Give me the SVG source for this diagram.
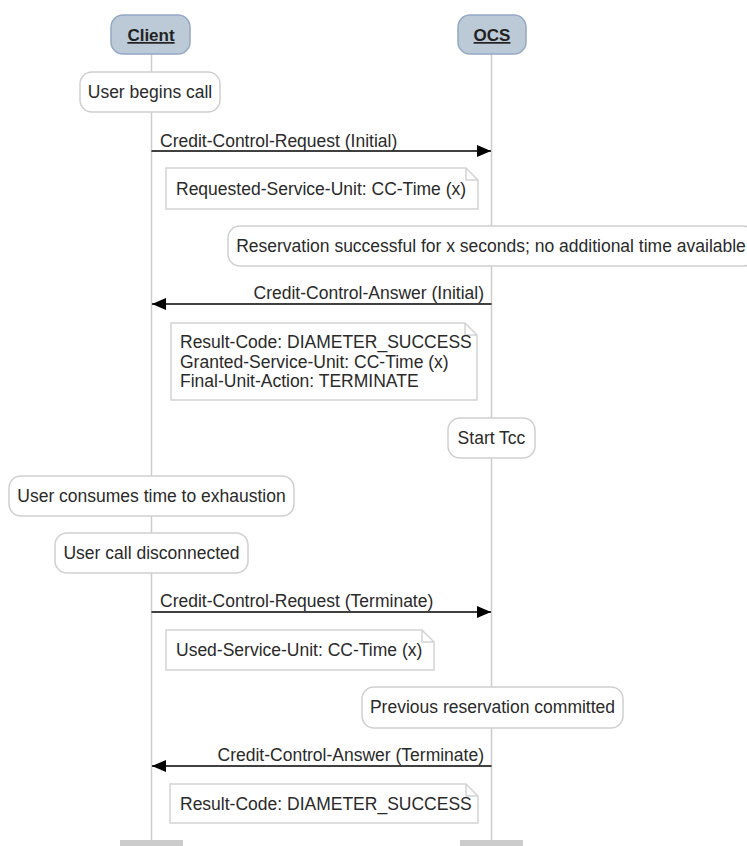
<svg xmlns="http://www.w3.org/2000/svg" width="747" height="846" viewBox="0 0 747 846">
<defs>
<style>
text{font-family:"Liberation Sans",Arial,sans-serif;font-size:17.5px;fill:#2a2a2a}
.actor rect{fill:#bccad8;stroke:#94a8c4;stroke-width:1.5}
.actor text{font-weight:bold;text-decoration:underline;text-anchor:middle;fill:#222;font-size:17px}
.life{stroke:#cccccc;stroke-width:1.5;fill:none}
.foot{fill:#cccccc}
.ev rect{fill:#fff;stroke:#cfcfcf;stroke-width:1.5}
.ev text{text-anchor:middle}
.note path{fill:#fff;stroke:#d3d3d3;stroke-width:1.5}
.msg line{stroke:#000;stroke-width:1.5}
.r{text-anchor:end}
</style>
<marker id="ah" viewBox="0 0 14 12" refX="14" refY="6" markerWidth="14" markerHeight="12" markerUnits="userSpaceOnUse" orient="auto">
<path d="M0,0 L14,6 L0,12 Z" fill="#000"/>
</marker>
</defs>
<rect width="747" height="846" fill="#fff"/>
<g id="lifelines">
<line class="life" x1="151.5" y1="54" x2="151.5" y2="840"/>
<line class="life" x1="491.5" y1="54" x2="491.5" y2="840"/>
<rect class="foot" x="120" y="840" width="63" height="8"/>
<rect class="foot" x="460" y="840" width="63" height="8"/>
</g>
<g id="actor-client" class="actor"><rect x="111" y="15" width="79" height="39" rx="12"/><text x="151" y="41">Client</text></g>
<g id="actor-ocs" class="actor"><rect x="458" y="15" width="68" height="39" rx="12"/><text x="492" y="41">OCS</text></g>
<g id="ev1" class="ev"><rect x="80" y="72" width="140" height="40" rx="12"/><text x="150" y="98">User begins call</text></g>
<g id="note1" class="note"><path d="M166,168 H466 L478,180 V209 H166 Z M466,168 V180 H478"/><text x="176" y="195">Requested-Service-Unit: CC-Time (x)</text></g>
<g id="ev2" class="ev"><rect x="228" y="226" width="527" height="40" rx="12"/><text x="491" y="252">Reservation successful for x seconds; no additional time available</text></g>
<g id="note2" class="note"><path d="M171,323 H465 L477,335 V400 H171 Z M465,323 V335 H477"/><text x="180" y="348">Result-Code: DIAMETER_SUCCESS</text><text x="180" y="367.5">Granted-Service-Unit: CC-Time (x)</text><text x="180" y="387">Final-Unit-Action: TERMINATE</text></g>
<g id="ev3" class="ev"><rect x="448" y="418" width="87" height="40" rx="12"/><text x="491.5" y="444">Start Tcc</text></g>
<g id="ev4" class="ev"><rect x="9" y="476" width="285" height="40" rx="12"/><text x="151.5" y="502">User consumes time to exhaustion</text></g>
<g id="ev5" class="ev"><rect x="55" y="533" width="193" height="40" rx="12"/><text x="151.5" y="559">User call disconnected</text></g>
<g id="note3" class="note"><path d="M166,630 H422 L434,642 V670 H166 Z M422,630 V642 H434"/><text x="176" y="656">Used-Service-Unit: CC-Time (x)</text></g>
<g id="ev6" class="ev"><rect x="362" y="687" width="261" height="41" rx="12"/><text x="492.5" y="713">Previous reservation committed</text></g>
<g id="note4" class="note"><path d="M170,784 H466 L478,796 V823 H170 Z M466,784 V796 H478"/><text x="180" y="810">Result-Code: DIAMETER_SUCCESS</text></g>
<g id="connectors" class="msg">
<line x1="151.5" y1="151" x2="491" y2="151" marker-end="url(#ah)"/>
<text x="160" y="146.5">Credit-Control-Request (Initial)</text>
<line x1="491.5" y1="304" x2="152" y2="304" marker-end="url(#ah)"/>
<text class="r" x="484" y="299">Credit-Control-Answer (Initial)</text>
<line x1="151.5" y1="612" x2="491" y2="612" marker-end="url(#ah)"/>
<text x="160" y="607">Credit-Control-Request (Terminate)</text>
<line x1="491.5" y1="766" x2="152" y2="766" marker-end="url(#ah)"/>
<text class="r" x="484" y="761">Credit-Control-Answer (Terminate)</text>
</g>
</svg>
